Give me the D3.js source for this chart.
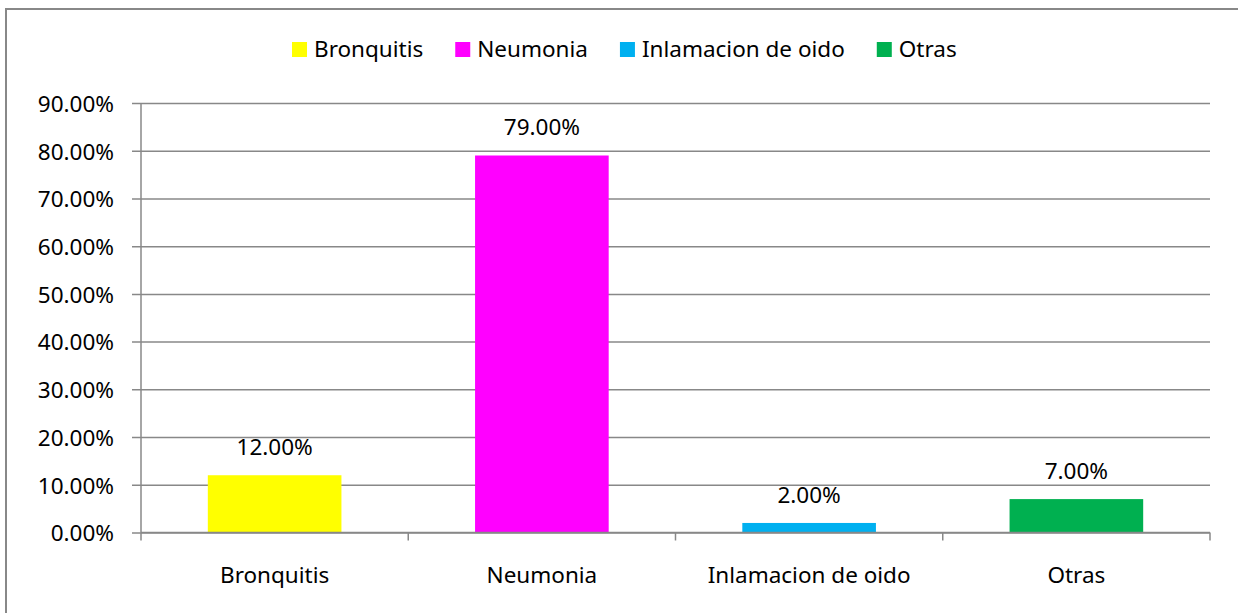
<!DOCTYPE html>
<html>
<head>
<meta charset="utf-8">
<script src="https://cdn.jsdelivr.net/npm/d3@7"></script>
<style>
  body { margin: 0; background: #fff; }
  svg text { font-family: "Noto Sans", "Open Sans", sans-serif; fill: #000; }
</style>
</head>
<body>
<svg id="chart"></svg>
<script>
// datos del grafico
const categories = ["Bronquitis", "Neumonia", "Inlamacion de oido", "Otras"];
const values = [0.12, 0.79, 0.02, 0.07];
const colors = ["#FFFF00", "#FF00FF", "#00B0F0", "#00B050"];
const yTicks = [0, 0.1, 0.2, 0.3, 0.4, 0.5, 0.6, 0.7, 0.8, 0.9];

const width = 1238, height = 613;
const plotLeft = 141, plotRight = 1210, plotTop = 103, plotBottom = 532.5;
const fontSize = 22.5;
const gridColor = "#888888";

const svg = d3.select("#chart")
  .attr("width", width)
  .attr("height", height);

// marco exterior
svg.append("rect")
  .attr("x", 6).attr("y", 9)
  .attr("width", 1260).attr("height", 640)
  .attr("fill", "none")
  .attr("stroke", gridColor)
  .attr("stroke-width", 2);

// escalas
const x = d3.scaleBand()
  .domain(categories)
  .range([plotLeft, plotRight])
  .paddingInner(0.5)
  .paddingOuter(0.25);

const y = d3.scaleLinear()
  .domain([0, 0.9])
  .range([plotBottom, plotTop]);

const fmt = d3.format(".2%");

// eje Y con lineas de cuadricula
const yAxis = svg.append("g")
  .attr("transform", `translate(${plotLeft},0)`)
  .call(d3.axisLeft(y)
    .tickValues(yTicks)
    .tickFormat(fmt)
    .tickSize(9)
    .tickPadding(18));
yAxis.select(".domain").remove();
yAxis.selectAll(".tick line")
  .attr("stroke", gridColor)
  .attr("stroke-width", 1.5)
  .attr("x2", plotRight - plotLeft)
  .attr("x1", -9);
yAxis.selectAll(".tick text")
  .attr("dy", "0.37em")
  .style("font-size", fontSize + "px")
  .style("font-family", "'Noto Sans', sans-serif")
  .attr("fill", "#000");

// linea vertical del eje Y
svg.append("line")
  .attr("x1", plotLeft).attr("x2", plotLeft)
  .attr("y1", plotTop).attr("y2", plotBottom)
  .attr("stroke", gridColor)
  .attr("stroke-width", 1.5);

// barras
svg.selectAll(".bar")
  .data(values)
  .enter()
  .append("rect")
  .attr("class", "bar")
  .attr("x", (d, i) => x(categories[i]))
  .attr("y", d => y(d))
  .attr("width", x.bandwidth())
  .attr("height", d => y(0) - y(d))
  .attr("fill", (d, i) => colors[i]);

// eje X
const step = x.step();
const bounds = d3.range(categories.length + 1).map(i => plotLeft + i * step);
svg.append("line")
  .attr("x1", plotLeft).attr("x2", plotRight)
  .attr("y1", y(0)).attr("y2", y(0))
  .attr("stroke", gridColor)
  .attr("stroke-width", 1.5);
svg.selectAll(".xtick")
  .data(bounds)
  .enter()
  .append("line")
  .attr("x1", d => d).attr("x2", d => d)
  .attr("y1", y(0)).attr("y2", y(0) + 8)
  .attr("stroke", gridColor)
  .attr("stroke-width", 1.5);

svg.selectAll(".xlabel")
  .data(categories)
  .enter()
  .append("text")
  .attr("x", d => x(d) + x.bandwidth() / 2)
  .attr("y", 583)
  .attr("text-anchor", "middle")
  .style("font-size", fontSize + "px")
  .text(d => d);

// etiquetas de valores
svg.selectAll(".vlabel")
  .data(values)
  .enter()
  .append("text")
  .attr("x", (d, i) => x(categories[i]) + x.bandwidth() / 2)
  .attr("y", d => y(d) - 20)
  .attr("text-anchor", "middle")
  .style("font-size", fontSize + "px")
  .text(d => fmt(d));

// leyenda
const legend = svg.append("g");
let lx = 292;
categories.forEach((c, i) => {
  const g = legend.append("g");
  g.append("rect")
    .attr("x", lx).attr("y", 42)
    .attr("width", 15).attr("height", 15)
    .attr("fill", colors[i]);
  const t = g.append("text")
    .attr("x", lx + 22)
    .attr("y", 57)
    .style("font-size", fontSize + "px")
    .text(c);
  lx += 22 + t.node().getComputedTextLength() + 32;
});
</script>
</body>
</html>
